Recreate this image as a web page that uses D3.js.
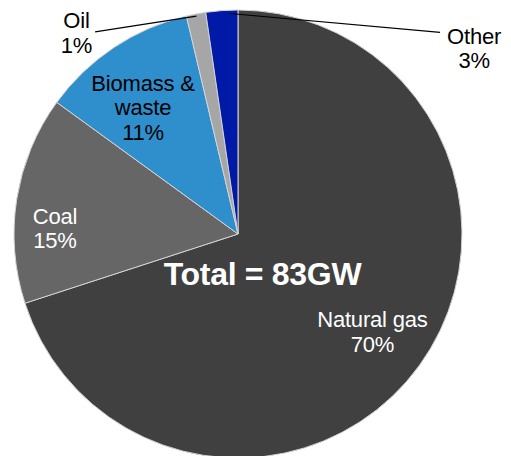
<!DOCTYPE html>
<html>
<head>
<meta charset="utf-8">
<script src="https://cdn.jsdelivr.net/npm/d3@7"></script>
<style>
  html, body { margin: 0; padding: 0; background: #fff; }
  svg { display: block; font-family: "Liberation Sans", Arial, sans-serif; }
</style>
</head>
<body>
<svg id="chart" width="511" height="456"></svg>
<script>
// ---- data ----
const categories = ["Natural gas", "Coal", "Biomass & waste", "Oil", "Other"];
const values = [70, 15, 11.3, 1.4, 2.3];          // share of 83 GW (%)
const percentLabels = ["70%", "15%", "11%", "1%", "3%"];
const labelLines = [["Natural gas"], ["Coal"], ["Biomass &", "waste"], ["Oil"], ["Other"]];
const totalLabel = "Total = 83GW";

// ---- layout / style ----
const colors = ["#404040", "#666666", "#2f8fcd", "#a6a6a6", "#0019a6"];
const textColors = ["#ffffff", "#ffffff", "#000000", "#000000", "#000000"];
const cx = 238, cy = 234, R = 224;
// label block centre offsets relative to the pie centre (fractions of radius)
const labelOffsets = [[0.600, 0.437], [-0.817, -0.027], [-0.424, -0.565], [-0.721, -0.898], [1.054, -0.830]];
// leader lines: text-side end (fraction of R), radius fraction at slice
const leaders = {3: {from: [-0.638, -0.902], r: 0.99, angleShift: 0.0}, 4: {from: [0.902, -0.900], r: 0.985, angleShift: 0.035}};
const fontSize = 22, lineH = 24.5;

const svg = d3.select("#chart");
const g = svg.append("g").attr("transform", `translate(${cx},${cy})`);

const pie = d3.pie().sort(null).value(d => d).startAngle(0).endAngle(2 * Math.PI);
const arcs = pie(values);
const arc = d3.arc().innerRadius(0).outerRadius(R);

g.selectAll("path.slice").data(arcs).join("path")
  .attr("class", "slice")
  .attr("d", arc)
  .attr("fill", (d, i) => colors[i])
  .attr("stroke", "#d4d4d4")
  .attr("stroke-width", 1);

// leader lines
Object.keys(leaders).forEach(k => {
  const i = +k, L = leaders[k];
  const a = (arcs[i].startAngle + arcs[i].endAngle) / 2 + L.angleShift;
  const x2 = Math.sin(a) * R * L.r, y2 = -Math.cos(a) * R * L.r;
  g.append("line")
    .attr("x1", L.from[0] * R).attr("y1", L.from[1] * R)
    .attr("x2", x2).attr("y2", y2)
    .attr("stroke", "#000").attr("stroke-width", 1.2);
});

// labels
arcs.forEach((d, i) => {
  const lines = labelLines[i].concat([percentLabels[i]]);
  const x = labelOffsets[i][0] * R, y = labelOffsets[i][1] * R;
  const n = lines.length;
  const t = g.append("text")
    .attr("text-anchor", "middle")
    .attr("font-size", fontSize)
    .attr("letter-spacing", "-0.2px")
    .attr("fill", textColors[i]);
  lines.forEach((s, j) => {
    t.append("tspan")
      .attr("x", x)
      .attr("y", y + (j - (n - 1) / 2) * lineH + 7.8)
      .text(s);
  });
});

// total
g.append("text")
  .attr("x", 262.5 - cx).attr("y", 285 - cy)
  .attr("text-anchor", "middle")
  .attr("font-size", 32).attr("font-weight", "bold")
  .attr("letter-spacing", "-0.3px")
  .attr("fill", "#fff")
  .text(totalLabel);
</script>
</body>
</html>
